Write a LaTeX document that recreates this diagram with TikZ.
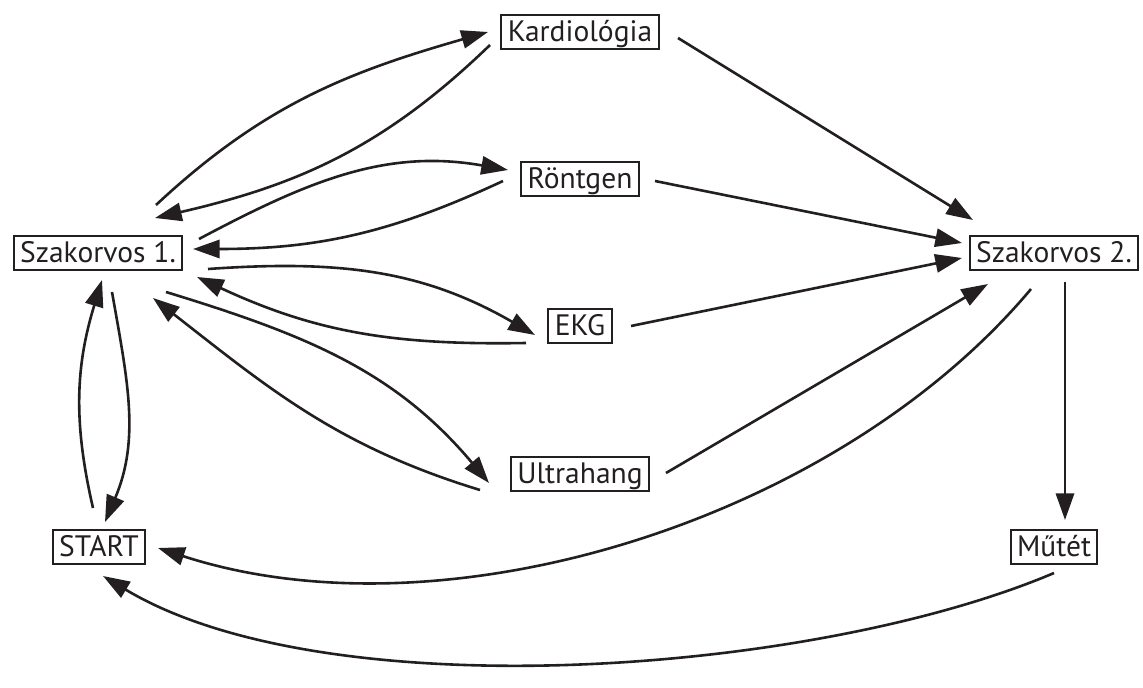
\documentclass[tikz,border=0pt]{standalone}
\usepackage{fontspec}
\setmainfont{PT Sans}
\usetikzlibrary{arrows.meta}
\definecolor{inkDark}{RGB}{35,31,32}

\tikzset{
  station/.style={draw=inkDark, line width=1.4pt, text=inkDark, inner xsep=4.6pt, inner ysep=0pt,
    text height=19pt, text depth=4.8pt, font=\fontsize{21pt}{25pt}\selectfont},
  flow/.style={draw=inkDark, line width=1.85pt, -{Triangle[length=19pt,width=13pt]}}
}

\begin{document}
\begin{tikzpicture}[x=0.025cm, y=0.025cm]
\useasboundingbox (0,0) rectangle (1143,-688);

% stations
\node[station] (kard)  at (580,-32)  {Kardiológia};
\node[station] (ront)  at (580,-179) {Röntgen};
\node[station] (ekg)   at (580,-326) {EKG};
\node[station] (ultra) at (580,-474) {Ultrahang};
\node[station] (sz1)   at (98,-253)  {Szakorvos 1.};
\node[station] (sz2)   at (1054,-253) {Szakorvos 2.};
\node[station] (start) at (99,-547)  {START};
\node[station] (mutet) at (1054,-547) {Műtét};

% Szakorvos 1. <-> examinations
\draw[flow] ([shift={(58,48)}]sz1.center) to[out=43,in=196] ([shift={(-92,0)}]kard.center);
\draw[flow] ([shift={(-90,-13)}]kard.center) to[out=224,in=13] ([shift={(57,35)}]sz1.center);
\draw[flow] ([shift={(101,14)}]sz1.center) to[out=28,in=170] ([shift={(-72,9)}]ront.center);
\draw[flow] ([shift={(-77,-2)}]ront.center) to[out=205,in=0] ([shift={(95,4)}]sz1.center);
\draw[flow] ([shift={(110,-16)}]sz1.center) to[out=4,in=150] ([shift={(-45,-9)}]ekg.center);
\draw[flow] ([shift={(-54,-17)}]ekg.center) to[out=181,in=335] ([shift={(99,-24)}]sz1.center);
\draw[flow] ([shift={(68,-39)}]sz1.center) to[out=-17,in=130] ([shift={(-91,-9)}]ultra.center);
\draw[flow] ([shift={(-100,-16)}]ultra.center) to[out=163,in=322] ([shift={(55,-45)}]sz1.center);

% START <-> Szakorvos 1.
\draw[flow] ([shift={(-6,39)}]start.center) to[out=103,in=253] ([shift={(4,-27)}]sz1.center);
\draw[flow] ([shift={(14,-39)}]sz1.center) to[out=-80,in=67] ([shift={(6,25)}]start.center);

% examinations -> Szakorvos 2.
\draw[flow] ([shift={(98,-6)}]kard.center) -- ([shift={(-81,33)}]sz2.center);
\draw[flow] ([shift={(75,-2)}]ront.center) -- ([shift={(-92,10)}]sz2.center);
\draw[flow] ([shift={(51,0)}]ekg.center) -- ([shift={(-92,-5)}]sz2.center);
\draw[flow] ([shift={(86,1)}]ultra.center) -- ([shift={(-66,-31)}]sz2.center);

% Szakorvos 2. -> Műtét / START
\draw[flow] ([shift={(11,-29)}]sz2.center) -- ([shift={(11,27)}]mutet.center);
\draw[flow] ([shift={(-23,-36)}]sz2.center) to[out=230,in=342,looseness=0.85] ([shift={(59,-1)}]start.center);
\draw[flow] ([shift={(0,-26)}]mutet.center) to[out=203,in=329,looseness=0.7] ([shift={(4,-29)}]start.center);
\end{tikzpicture}
\end{document}
